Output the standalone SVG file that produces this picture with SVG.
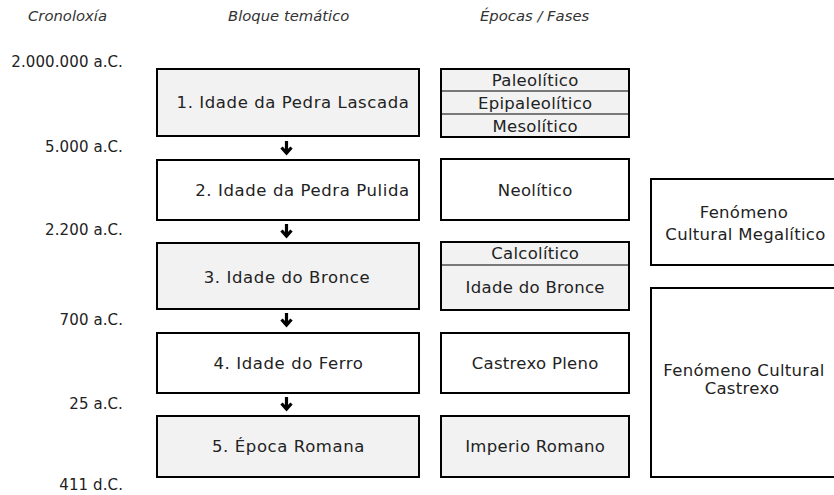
<svg xmlns="http://www.w3.org/2000/svg" width="834" height="495" viewBox="0 0 834 495">
<style>
text{font-family:"DejaVu Sans","Verdana",sans-serif;fill:#222}
.hd{font-size:14.8px;font-style:italic;fill:#333}
.yr{font-size:15px;letter-spacing:0.1px;text-anchor:end}
.bx{font-size:16.5px;letter-spacing:0.6px;text-anchor:middle}
.ep{font-size:16.5px;letter-spacing:0.3px;text-anchor:middle}
.box{stroke:#000;stroke-width:2}
.g{fill:#f2f2f2}
.w{fill:#fff}
.div{stroke:#000;stroke-width:1.2;fill:none}
.arr{stroke:#000;stroke-width:3.2;fill:none}
</style>
<g id="headers">
<text class="hd" x="28" y="21">Cronoloxía</text>
<text class="hd" x="228" y="21">Bloque temático</text>
<text class="hd" x="480" y="21">Épocas / Fases</text>
</g>
<g id="chronology">
<text class="yr" x="123" y="67">2.000.000 a.C.</text>
<text class="yr" x="123" y="152">5.000 a.C.</text>
<text class="yr" x="123" y="235">2.200 a.C.</text>
<text class="yr" x="123" y="325">700 a.C.</text>
<text class="yr" x="123" y="409">25 a.C.</text>
<text class="yr" x="123" y="490">411 d.C.</text>
</g>
<g id="block1"><rect class="box g" x="157" y="69" width="262" height="67"/><text class="bx" x="293" y="108">1. Idade da Pedra Lascada</text></g>
<g id="block2"><rect class="box w" x="157" y="160" width="262" height="60"/><text class="bx" x="302.5" y="196">2. Idade da Pedra Pulida</text></g>
<g id="block3"><rect class="box g" x="157" y="243" width="262" height="66"/><text class="bx" x="287" y="283">3. Idade do Bronce</text></g>
<g id="block4"><rect class="box w" x="157" y="333" width="262" height="60"/><text class="bx" x="288.5" y="369">4. Idade do Ferro</text></g>
<g id="block5"><rect class="box g" x="157" y="416" width="262" height="61"/><text class="bx" x="288.5" y="452">5. Época Romana</text></g>
<g id="connectors">
<path class="arr" d="M286.5 141V153M281.5 147.5L286.5 153L291.5 147.5"/>
<path class="arr" d="M286.5 224V236M281.5 230.5L286.5 236L291.5 230.5"/>
<path class="arr" d="M286.5 313V325M281.5 319.5L286.5 325L291.5 319.5"/>
<path class="arr" d="M286.5 397V409M281.5 403.5L286.5 409L291.5 403.5"/>
</g>
<g id="phases1"><rect class="box g" x="441" y="69" width="188" height="68"/><line class="div" x1="441" y1="91" x2="629" y2="91"/><line class="div" x1="441" y1="114" x2="629" y2="114"/><text class="ep" x="535.2" y="86">Paleolítico</text><text class="ep" x="535.2" y="109">Epipaleolítico</text><text class="ep" x="535.2" y="132">Mesolítico</text></g>
<g id="phases2"><rect class="box w" x="441" y="159" width="188" height="61"/><text class="ep" x="535.2" y="196">Neolítico</text></g>
<g id="phases3"><rect class="box g" x="441" y="242" width="188" height="68"/><line class="div" x1="441" y1="265" x2="629" y2="265"/><text class="ep" x="535.2" y="259">Calcolítico</text><text class="ep" x="535.2" y="293">Idade do Bronce</text></g>
<g id="phases4"><rect class="box w" x="441" y="333" width="188" height="60"/><text class="ep" x="535.2" y="369">Castrexo Pleno</text></g>
<g id="phases5"><rect class="box g" x="441" y="416" width="188" height="61"/><text class="ep" x="535.2" y="452">Imperio Romano</text></g>
<g id="megalitico"><rect class="box w" x="651" y="179" width="190" height="86"/><text class="ep" x="744" y="218">Fenómeno</text><text class="ep" x="745.5" y="240">Cultural Megalítico</text></g>
<g id="castrexo"><rect class="box w" x="651" y="288" width="190" height="189"/><text class="ep" x="744" y="376">Fenómeno Cultural</text><text class="ep" x="742" y="394">Castrexo</text></g>
</svg>
